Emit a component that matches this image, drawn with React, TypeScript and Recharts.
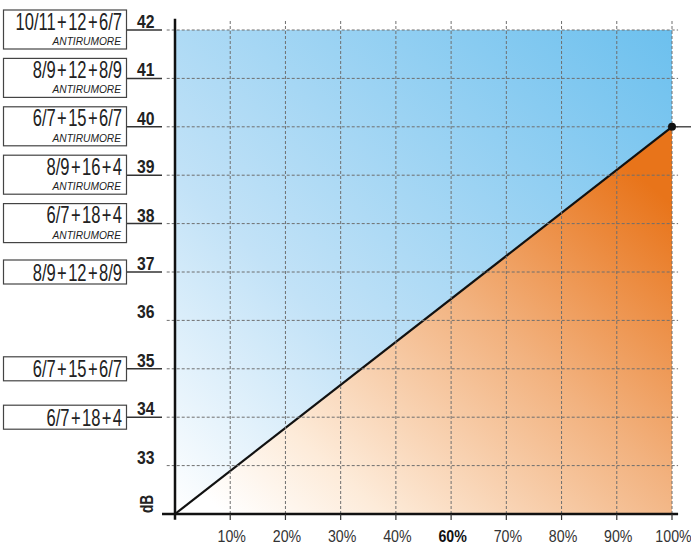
import React from "react";
import {
  ComposedChart, Area, XAxis, YAxis, ReferenceArea, ReferenceLine, ReferenceDot,
} from "recharts";

const FONT = "'Liberation Sans', Arial, sans-serif";

// x axis: 9 intervals, the original skips 50%
const xTicks = [1, 2, 3, 4, 5, 6, 7, 8, 9];
const xLabels = ["10%", "20%", "30%", "40%", "60%", "70%", "80%", "90%", "100%"];
const xBold = ["60%"];

const yTicks = [33, 34, 35, 36, 37, 38, 39, 40, 41, 42];

// glazing boxes on the left
const boxLevels = [42, 41, 40, 39, 38, 37, 35, 34];
const boxMain = [
  "10/11+12+6/7", "8/9+12+8/9", "6/7+15+6/7", "8/9+16+4",
  "6/7+18+4", "8/9+12+8/9", "6/7+15+6/7", "6/7+18+4",
];
const boxSub = [
  "ANTIRUMORE", "ANTIRUMORE", "ANTIRUMORE", "ANTIRUMORE",
  "ANTIRUMORE", "", "", "",
];

// limit line
const limitX = [0, 9];
const limitDb = [32, 40];
const limitData = limitX.map((x, i) => ({ x, db: limitDb[i] }));

// condensed text: regular font squeezed horizontally
function CText({ x, y, sx = 0.75, rotate = 0, anchor = "start", children, ...rest }: any) {
  return (
    <text
      transform={`translate(${x} ${y})${rotate ? ` rotate(${rotate})` : ""} scale(${sx} 1)`}
      x={0}
      y={0}
      textAnchor={anchor}
      fontFamily={FONT}
      {...rest}
    >
      {children}
    </text>
  );
}

function YTick(props: any) {
  const { y, payload } = props;
  const v = payload.value;
  const i = boxLevels.indexOf(v);
  const hasSub = i >= 0 && boxSub[i] !== "";
  const main = i >= 0 ? boxMain[i].split("+").join("\u200A+\u200A") : "";
  return (
    <g>
      {i >= 0 && (
        <>
          <rect
            x={3.5} y={hasSub ? y - 20 : y - 12} width={123} height={hasSub ? 39 : 24}
            fill="#fff" stroke="#444" strokeWidth={1.2}
          />
          <CText x={122} y={hasSub ? y - 0.5 : y + 8.5} sx={0.72} anchor="end"
            fontSize={23} fill="#222">
            {main}
          </CText>
          {hasSub && (
            <CText x={121} y={y + 15} sx={0.88} anchor="end"
              fontSize={11.6} fontStyle="italic" fill="#222">
              {boxSub[i]}
            </CText>
          )}
          <line x1={127} x2={162} y1={y} y2={y} stroke="#333" strokeWidth={1.5} />
        </>
      )}
      <CText x={137} y={y - 2} sx={0.85} fontSize={18.5} fontWeight="bold" fill="#222">
        {v}
      </CText>
    </g>
  );
}

function XTick(props: any) {
  const { x, payload } = props;
  const label = xLabels[xTicks.indexOf(payload.value)];
  const bold = xBold.includes(label);
  return (
    <CText x={x + 1.5} y={542} sx={0.86} anchor="middle" fontSize={16.5}
      fontWeight={bold ? "bold" : "normal"} fill={bold ? "#111" : "#333"}>
      {label}
    </CText>
  );
}

export default function App() {
  return (
    <div style={{ position: "absolute", left: 0, top: 0, width: 691, height: 544, background: "#fff" }}>
      <ComposedChart
        width={691}
        height={544}
        data={limitData}
        margin={{ top: 30, right: 19, bottom: 0, left: 0 }}
      >
        <defs>
          <linearGradient id="blueGrad" x1="0" y1="1" x2="1" y2="0">
            <stop offset="0%" stopColor="#ffffff" />
            <stop offset="35%" stopColor="#c2e2f7" />
            <stop offset="100%" stopColor="#6cc0ee" />
          </linearGradient>
          <linearGradient id="orangeGrad" x1="0.1" y1="1" x2="1" y2="0.2">
            <stop offset="0%" stopColor="#ffffff" />
            <stop offset="20%" stopColor="#fdebd9" />
            <stop offset="60%" stopColor="#f2b27f" />
            <stop offset="100%" stopColor="#e8741a" />
          </linearGradient>
        </defs>
        <XAxis
          type="number"
          dataKey="x"
          domain={[0, 9]}
          ticks={xTicks}
          height={30}
          axisLine={false}
          tickSize={6}
          tickLine={{ stroke: "#333", strokeWidth: 1.2 }}
          tick={<XTick />}
          interval={0}
        />
        <YAxis
          type="number"
          domain={[32, 42]}
          ticks={yTicks}
          width={175}
          axisLine={false}
          tickLine={false}
          tick={<YTick />}
          interval={0}
        />
        <ReferenceArea x1={0} x2={9} y1={32} y2={42} fill="url(#blueGrad)" fillOpacity={1} stroke="none" />
        <Area
          type="linear"
          dataKey="db"
          baseValue={32}
          fill="url(#orangeGrad)"
          fillOpacity={1}
          stroke="#111"
          strokeWidth={2.2}
          dot={false}
          activeDot={false}
          isAnimationActive={false}
        />
        {yTicks.map((t) => (
          <ReferenceLine key={"h" + t} segment={[{ x: -0.15, y: t }, { x: 9.11, y: t }]}
            stroke="#6f6f6f" strokeDasharray="3 2" strokeWidth={1} ifOverflow="visible" />
        ))}
        {xTicks.map((t) => (
          <ReferenceLine key={"v" + t} segment={[{ x: t, y: 32 }, { x: t, y: 42.2 }]}
            stroke="#6f6f6f" strokeDasharray="3 2" strokeWidth={1} ifOverflow="visible" />
        ))}
        <ReferenceLine segment={[{ x: 0, y: 31.88 }, { x: 0, y: 42.23 }]}
          stroke="#111" strokeWidth={2.5} ifOverflow="visible" />
        <ReferenceLine segment={[{ x: -0.235, y: 32 }, { x: 9.11, y: 32 }]}
          stroke="#111" strokeWidth={2.5} ifOverflow="visible" />
        <ReferenceLine segment={[{ x: 9, y: 40 }, { x: 9.35, y: 40 }]}
          stroke="#333" strokeWidth={1.3} ifOverflow="visible" />
        <ReferenceDot x={9} y={40} r={4} fill="#111" stroke="none" ifOverflow="visible" />
        <CText x={341} y={122} sx={0.74} anchor="middle" fontSize={26} fontWeight="bold" fill="#1a1a1a">
          CONFORME
        </CText>
        <CText x={341} y={152} sx={0.74} anchor="middle" fontSize={26} fontWeight="bold" fill="#1a1a1a">
          ALLA NORMA
        </CText>
        <CText x={563} y={363} sx={0.74} anchor="middle" fontSize={26} fontWeight="bold" fill="#fff">
          NON
        </CText>
        <CText x={563} y={393} sx={0.74} anchor="middle" fontSize={26} fontWeight="bold" fill="#fff">
          CONFORME
        </CText>
        <CText x={153} y={504} rotate={-90} sx={0.72} anchor="middle" fontSize={19} fontWeight="bold" fill="#222">
          dB
        </CText>
      </ComposedChart>
    </div>
  );
}
